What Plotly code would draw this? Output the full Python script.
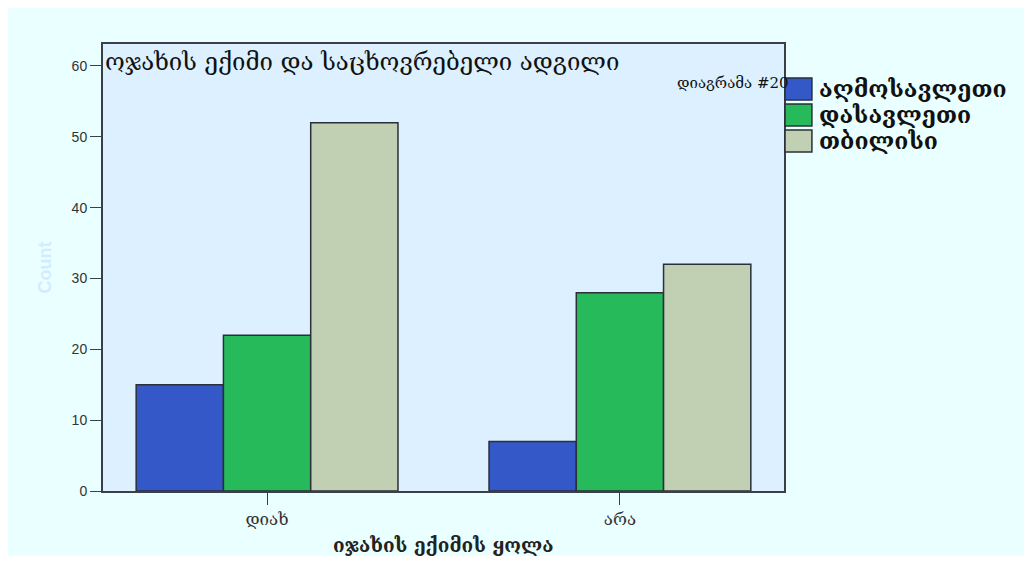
import plotly.graph_objects as go

categories = ["დიახ", "არა"]
series_names = ["აღმოსავლეთი", "დასავლეთი", "თბილისი"]
east = [15, 7]
west = [22, 28]
tbilisi = [52, 32]
colors = ["#3558C8", "#27BA5A", "#C1D0B3"]
edge = "#2a2f3a"

fig = go.Figure()
for name, vals, col in zip(series_names, [east, west, tbilisi], colors):
    fig.add_trace(go.Bar(
        x=categories, y=vals, name=name,
        marker=dict(color=col, line=dict(color=edge, width=1.5)),
    ))

# legend drawn by hand so the swatches can be as big as in the original
for i, (name, col) in enumerate(zip(series_names, colors)):
    y_top = 0.924 - i * 0.0582
    fig.add_shape(type="rect", xref="paper", yref="paper",
                  x0=1.0015, x1=1.041, y0=y_top - 0.049, y1=y_top,
                  fillcolor=col, line=dict(color=edge, width=1.5))
    fig.add_annotation(text=name, xref="paper", yref="paper",
                       x=1.049, y=y_top - 0.0245, xanchor="left", yanchor="middle",
                       showarrow=False,
                       font=dict(family="DejaVu Serif", size=23, weight="bold",
                                 color="#111111"))

fig.add_annotation(text="ოჯახის ექიმი და საცხოვრებელი ადგილი",
                   xref="paper", yref="paper", x=0.0, y=0.96,
                   xanchor="left", yanchor="middle", showarrow=False,
                   font=dict(family="DejaVu Serif", size=24, color="#111111"))
fig.add_annotation(text="დიაგრამა #20",
                   xref="paper", yref="paper", x=1.01, y=0.913,
                   xanchor="right", yanchor="middle", showarrow=False,
                   font=dict(family="DejaVu Serif", size=15, color="#111111"))
# x axis title
fig.add_annotation(text="იჯახის ექიმის ყოლა",
                   xref="paper", yref="paper", x=0.5, y=-0.12,
                   xanchor="center", yanchor="middle", showarrow=False,
                   font=dict(family="DejaVu Serif", size=19, weight="bold",
                             color="#222222"))

fig.update_layout(
    width=1016, height=548,
    margin=dict(l=95, r=240, t=36, b=65),
    paper_bgcolor="#EAFFFF",
    plot_bgcolor="#DCF0FF",
    barmode="group",
    bargap=0.258,
    bargroupgap=0,
    font=dict(family="DejaVu Sans", color="#333333"),
    showlegend=False,
)
fig.update_xaxes(range=[-0.465, 1.465], automargin=False,
                 showline=True, linecolor="#3a3f4a",
                 linewidth=2, mirror=True, ticks="outside", ticklen=12,
                 tickcolor="#3a3f4a",
                 tickfont=dict(family="DejaVu Serif", size=17, color="#333333"))
fig.update_yaxes(range=[0, 63.1], dtick=10, automargin=False,
                 showgrid=False, zeroline=False,
                 showline=True, linecolor="#3a3f4a", linewidth=2, mirror=True,
                 ticks="outside", ticklen=11, tickcolor="#3a3f4a",
                 tickfont=dict(family="Liberation Sans", size=14, color="#333333"),
                 title=dict(text="Count",
                            font=dict(family="Liberation Sans", size=18, weight="bold",
                                      color="#D2ECFF")))

fig.write_html("out.html")
